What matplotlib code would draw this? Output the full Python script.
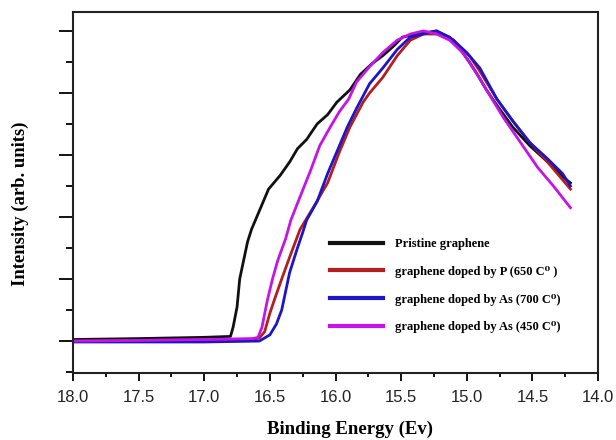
import matplotlib
matplotlib.use("Agg")
import matplotlib.pyplot as plt
from matplotlib.ticker import MultipleLocator

# ---- data ----
pristine_E = [18.0, 17.5, 17.0, 16.80, 16.78, 16.75, 16.73, 16.70, 16.67, 16.64, 16.58, 16.51,
              16.42, 16.35, 16.29, 16.22, 16.14, 16.06, 15.99, 15.89, 15.81, 15.72, 15.64, 15.56,
              15.49, 15.38, 15.23, 15.10, 14.98, 14.92, 14.85, 14.77, 14.65, 14.52, 14.39, 14.27,
              14.21]
pristine_I = [0.005, 0.008, 0.012, 0.015, 0.045, 0.11, 0.20, 0.26, 0.32, 0.36, 0.42, 0.49,
              0.535, 0.577, 0.62, 0.65, 0.70, 0.73, 0.77, 0.81, 0.86, 0.895, 0.92, 0.95,
              0.98, 0.99, 1.0, 0.97, 0.90, 0.86, 0.81, 0.76, 0.69, 0.63, 0.58, 0.53,
              0.51]

p650_E = [18.0, 17.5, 17.0, 16.62, 16.58, 16.54, 16.50, 16.46, 16.41, 16.35, 16.27, 16.17,
          16.06, 15.97, 15.89, 15.79, 15.74, 15.64, 15.53, 15.43, 15.33, 15.20, 15.10, 14.98,
          14.90, 14.77, 14.65, 14.52, 14.39, 14.27, 14.21]
p650_I = [0.0, 0.002, 0.004, 0.006, 0.01, 0.03, 0.09, 0.14, 0.20, 0.27, 0.36, 0.43,
          0.51, 0.61, 0.69, 0.77, 0.80, 0.85, 0.92, 0.97, 0.99, 0.99, 0.97, 0.92,
          0.87, 0.78, 0.71, 0.64, 0.58, 0.52, 0.49]

as700_E = [18.0, 17.5, 17.0, 16.58, 16.50, 16.45, 16.41, 16.38, 16.35, 16.29, 16.25, 16.22,
           16.14, 16.06, 15.99, 15.91, 15.84, 15.74, 15.64, 15.53, 15.43, 15.33, 15.23, 15.13,
           15.00, 14.90, 14.77, 14.65, 14.52, 14.39, 14.27, 14.21]
as700_I = [-0.003, -0.003, -0.003, 0.0, 0.02, 0.055, 0.10, 0.16, 0.22, 0.30, 0.35, 0.39,
           0.45, 0.54, 0.61, 0.69, 0.75, 0.83, 0.88, 0.94, 0.98, 0.99, 1.0, 0.98,
           0.93, 0.88, 0.78, 0.71, 0.64, 0.59, 0.54, 0.50]

as450_E = [18.0, 17.5, 17.0, 16.63, 16.59, 16.56, 16.52, 16.48, 16.44, 16.38, 16.34, 16.27,
           16.19, 16.12, 16.04, 15.97, 15.90, 15.84, 15.74, 15.64, 15.53, 15.43, 15.33, 15.23,
           15.13, 15.03, 14.92, 14.85, 14.72, 14.59, 14.46, 14.34, 14.21]
as450_I = [0.0, 0.002, 0.005, 0.008, 0.012, 0.045, 0.13, 0.20, 0.26, 0.33, 0.39, 0.465,
           0.55, 0.63, 0.69, 0.74, 0.78, 0.835, 0.885, 0.93, 0.97, 0.99, 1.0, 0.99,
           0.97, 0.93, 0.86, 0.81, 0.72, 0.64, 0.56, 0.50, 0.43]

labels = ["Pristine graphene",
          "graphene doped by P (650 C\u2070 )",
          "graphene doped by As (700 C\u2070)",
          "graphene doped by As (450 C\u2070)"]
colors = ["#111111", "#b41e1e", "#1e14c8", "#c414e6"]

xticks = [18.0, 17.5, 17.0, 16.5, 16.0, 15.5, 15.0, 14.5, 14.0]

fig = plt.figure(figsize=(6.16, 4.40), dpi=100)
ax = fig.add_axes([73/616, 1-373/440, (598-73)/616, (373-12)/440])

series = [(pristine_E, pristine_I), (p650_E, p650_I), (as700_E, as700_I), (as450_E, as450_I)]
for (e, i), lab, c in zip(series, labels, colors):
    ax.plot(e, i, color=c, lw=2.0, label=lab, solid_joinstyle="round")

ax.set_xlim(18.0, 14.0)
ax.set_ylim(-0.103, 1.061)
ax.set_xticks(xticks)
ax.set_xticklabels([f"{t:.1f}" for t in xticks], family="Liberation Sans", fontsize=12, color="#222222")
ax.xaxis.set_minor_locator(MultipleLocator(0.25))
ax.yaxis.set_major_locator(MultipleLocator(0.2))
ax.yaxis.set_minor_locator(MultipleLocator(0.1))
ax.set_yticklabels([])
ax.tick_params(axis="x", which="major", direction="out", length=6, width=1.3, pad=6)
ax.tick_params(axis="x", which="minor", direction="out", length=3, width=1.3)
ax.tick_params(axis="y", which="major", direction="out", length=10, width=1.3)
ax.tick_params(axis="y", which="minor", direction="out", length=5, width=1.3)
for s in ax.spines.values():
    s.set_linewidth(1.5)
    s.set_color("#222222")

ax.set_xlabel("Binding Energy (Ev)", family="Liberation Serif", weight="bold", fontsize=13.5)
ax.xaxis.set_label_coords((350-73)/525, (373-421)/361)
ax.set_ylabel("Intensity (arb. units)", family="Liberation Serif", weight="bold", fontsize=13.4)
ax.yaxis.set_label_coords((29-73)/525, (373-204)/361)

leg = ax.legend(loc="upper left", bbox_to_anchor=(330/616, 1-238/440), bbox_transform=fig.transFigure,
                frameon=False, borderpad=0, borderaxespad=0, handlelength=4.2, handletextpad=1.0,
                labelspacing=1.26,
                prop={"family": ["Liberation Serif", "DejaVu Serif"], "weight": "bold", "size": 9})
for ln in leg.get_lines():
    ln.set_linewidth(3.0)

fig.savefig("out.png", dpi=100)
